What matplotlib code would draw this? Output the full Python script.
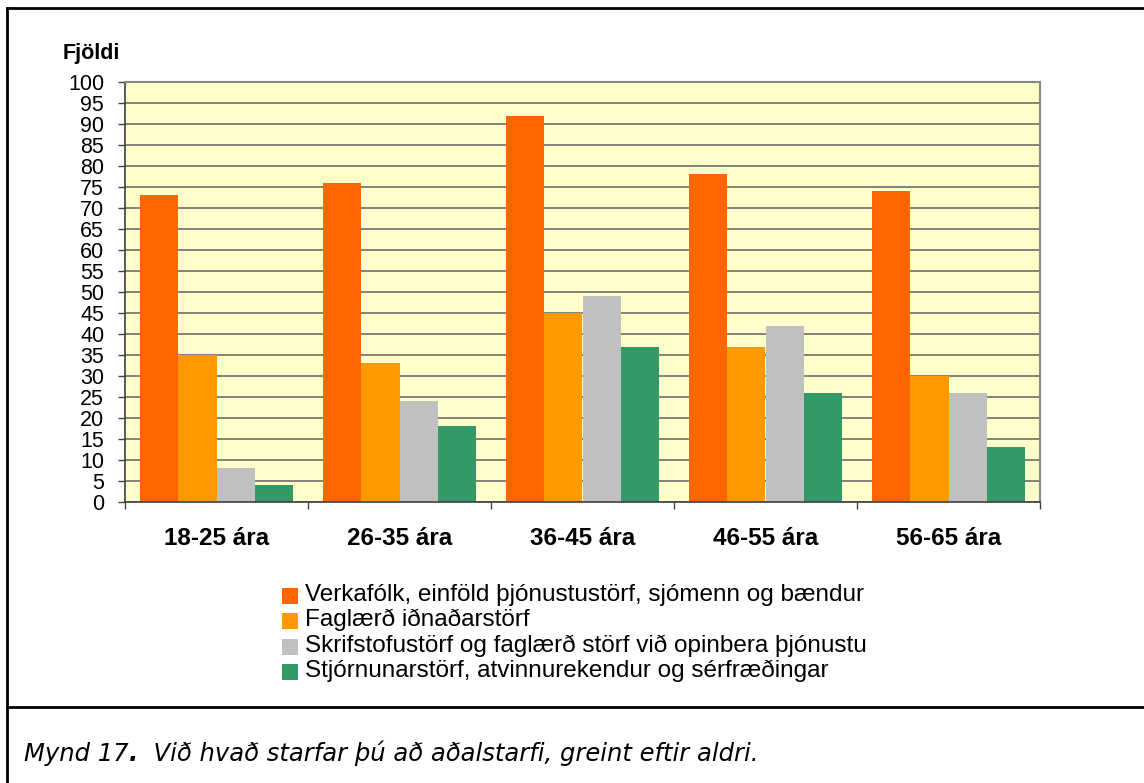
import numpy as np
import matplotlib
matplotlib.use("Agg")
import matplotlib.pyplot as plt
from matplotlib.patches import Rectangle
from matplotlib.lines import Line2D

plt.rcParams["font.family"] = ["Liberation Sans", "DejaVu Sans"]

# Gögn
aldur = ["18-25 ára", "26-35 ára", "36-45 ára", "46-55 ára", "56-65 ára"]
flokkar = [
    "Verkafólk, einföld þjónustustörf, sjómenn og bændur",
    "Faglærð iðnaðarstörf",
    "Skrifstofustörf og faglærð störf við opinbera þjónustu",
    "Stjórnunarstörf, atvinnurekendur og sérfræðingar",
]
verkafolk = [73, 76, 92, 78, 74]
faglaerd = [35, 33, 45, 37, 30]
skrifstofa = [8, 24, 49, 42, 26]
stjornun = [4, 18, 37, 26, 13]
litir = ["#FF6600", "#FF9900", "#C0C0C0", "#339966"]

W, H = 1144, 783
fig = plt.figure(figsize=(W / 100, H / 100), dpi=100)
ax = fig.add_axes([125 / W, 1 - 502 / H, 915 / W, 420 / H])
ax.set_facecolor("#FFFFCC")

x = np.arange(len(aldur))
bw = 0.21
for k, (vals, c) in enumerate(zip([verkafolk, faglaerd, skrifstofa, stjornun], litir)):
    ax.bar(x + (k - 1.5) * bw, vals, width=bw, color=c, zorder=2, linewidth=0)

ax.set_xlim(-0.5, 4.5)
ax.set_ylim(0, 100)
ax.set_yticks(range(0, 101, 5))
ax.tick_params(axis="y", length=5, width=1, color="#404040", pad=10, labelsize=15.5)
ax.yaxis.grid(True, color="#606060", linewidth=1.1)
ax.set_axisbelow(True)

ax.set_xticks(x)
ax.set_xticklabels(aldur, fontsize=17.5, fontweight="bold")
ax.tick_params(axis="x", length=0, pad=18)
ax.set_xticks(np.arange(-0.5, 5, 1), minor=True)
ax.tick_params(axis="x", which="minor", length=5, width=1, color="#404040")

for s in ["left", "bottom"]:
    ax.spines[s].set_color("#404040")
    ax.spines[s].set_linewidth(1.2)
for s in ["top", "right"]:
    ax.spines[s].set_color("#888888")
    ax.spines[s].set_linewidth(1.5)

fig.text(63 / W, 1 - 59 / H, "Fjöldi", fontsize=15.5, fontweight="bold", va="baseline")

# skýringar
for i, (lab, c) in enumerate(zip(flokkar, litir)):
    base = 601 + i * 25.3
    fig.add_artist(Rectangle((282 / W, 1 - (base + 3) / H), 16 / W, 16 / H,
                             transform=fig.transFigure, facecolor=c, edgecolor="none"))
    fig.text(305 / W, 1 - base / H, lab, fontsize=17.5, va="baseline")

# rammi
lw = 2
fig.add_artist(Line2D([7 / W, 1], [1 - 8 / H, 1 - 8 / H], color="black", lw=lw))
fig.add_artist(Line2D([7 / W, 7 / W], [0, 1 - 8 / H], color="black", lw=lw))
fig.add_artist(Line2D([7 / W, 1], [1 - 707 / H, 1 - 707 / H], color="black", lw=lw))

# myndatexti
cap_kw = dict(fontsize=17.5, style="italic", family="DejaVu Sans")
t1 = fig.text(24 / W, 1 - 761 / H, "Mynd 17", va="baseline", **cap_kw)
t2 = ax.annotate(".", xy=(1, 0), xycoords=t1, fontweight="bold", va="bottom",
                 annotation_clip=False, **cap_kw)
ax.annotate("  Við hvað starfar þú að aðalstarfi, greint eftir aldri.", xy=(1, 0),
            xycoords=t2, va="bottom", annotation_clip=False, **cap_kw)

fig.savefig("out.png", dpi=100)
